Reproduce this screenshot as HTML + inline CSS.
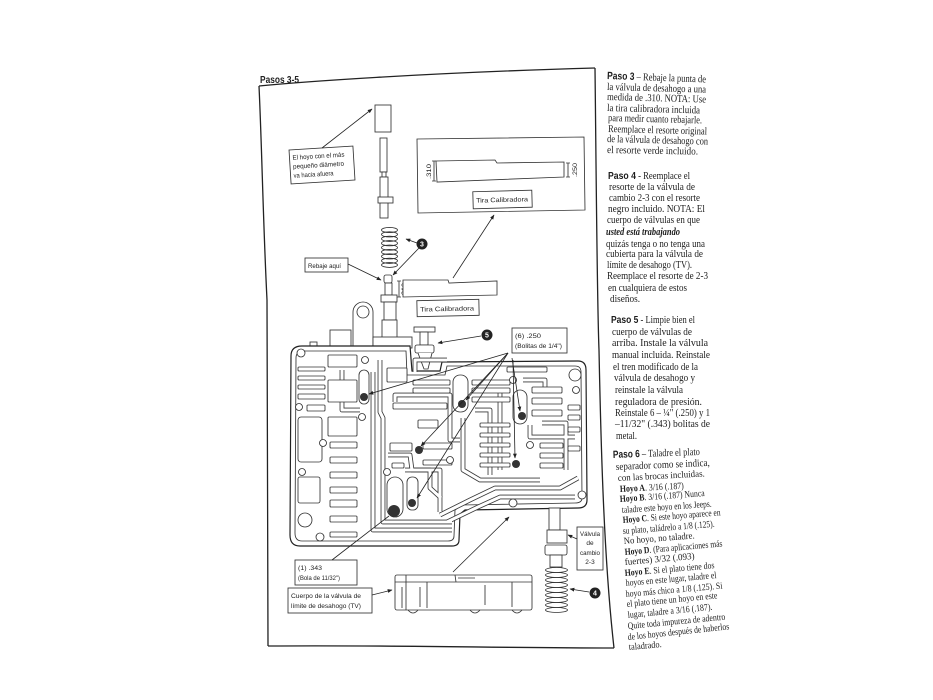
<!DOCTYPE html>
<html><head><meta charset="utf-8">
<style>
html,body{margin:0;padding:0;background:#fff;}
svg{display:block;}
.t{font-family:"Liberation Serif",serif;font-size:10.5px;fill:#1c1c1c;}
.s{font-family:"Liberation Serif",serif;font-size:9.5px;fill:#1c1c1c;}
.b{font-family:"Liberation Sans",sans-serif;font-weight:bold;}
.bs{font-weight:bold;}
.l{font-family:"Liberation Sans",sans-serif;font-size:6.5px;fill:#222;}
.k{fill:none;stroke:#333;stroke-width:0.85;}
.w{fill:#fff;stroke:#333;stroke-width:0.85;}
.ch1{fill:none;stroke:#3a3a3a;stroke-width:4.8;stroke-linejoin:round;}
.ch2{fill:none;stroke:#fff;stroke-width:3.1;stroke-linejoin:round;}
.a{fill:none;stroke:#222;stroke-width:0.8;}
</style></head><body>
<svg width="933" height="700" viewBox="0 0 933 700" xmlns="http://www.w3.org/2000/svg">
<defs>
<marker id="ah" viewBox="0 0 10 10" refX="9" refY="5" markerWidth="6" markerHeight="6" orient="auto"><path d="M0,1 L10,5 L0,9 z" fill="#222"/></marker>
</defs>
<rect width="933" height="700" fill="#fff"/>

<!-- FRAME -->
<g fill="none" stroke="#222" stroke-width="1.3">
<path d="M259,86 C300,82 420,73 595,68"/>
<path d="M259,86 C262,150 263,220 267,300 L268,646"/>
<path d="M268,646 C400,645 500,648 614,648"/>
<path d="M595,68 C596,150 597,300 599,350 C601,450 604,560 614,648"/>
</g>
<text x="260" y="83" font-family="Liberation Sans, sans-serif" font-weight="bold" font-size="10" fill="#222" textLength="39" lengthAdjust="spacingAndGlyphs">Pasos  3-5</text>

<!-- TOP VALVE STACK -->
<rect x="375" y="105" width="16" height="27" class="w"/>
<rect x="380" y="138" width="7" height="34" class="w"/>
<rect x="382" y="172" width="4" height="5" class="w"/>
<rect x="380" y="177" width="8" height="41" class="w"/>
<rect x="378" y="197" width="15" height="6" class="w"/>
<g class="k" stroke-width="1.1">
<ellipse cx="389.5" cy="230" rx="8" ry="2.6"/><ellipse cx="389.5" cy="234.4" rx="8" ry="2.6"/>
<ellipse cx="389.5" cy="238.8" rx="8" ry="2.6"/><ellipse cx="389.5" cy="243.2" rx="8" ry="2.6"/>
<ellipse cx="389.5" cy="247.6" rx="8" ry="2.6"/><ellipse cx="389.5" cy="252" rx="8" ry="2.6"/>
<ellipse cx="389.5" cy="256.4" rx="8" ry="2.6"/><ellipse cx="389.5" cy="260.8" rx="8" ry="2.6"/>
<ellipse cx="389.5" cy="265" rx="8" ry="2.4"/>
</g>
<circle cx="422" cy="244" r="5.5" fill="#222"/>
<text x="422" y="246.5" font-family="Liberation Sans, sans-serif" font-size="7" font-weight="bold" fill="#fff" text-anchor="middle">3</text>
<line x1="417" y1="243" x2="406" y2="239" class="a" marker-end="url(#ah)"/>
<line x1="419" y1="248" x2="393" y2="275" class="a" marker-end="url(#ah)"/>

<!-- label El hoyo -->
<g transform="rotate(-3.5 322 165)">
<rect x="290" y="148" width="64" height="34" class="w" stroke-width="0.7"/>
<text class="l" x="293" y="158" textLength="52" lengthAdjust="spacingAndGlyphs">El hoyo con el más</text>
<text class="l" x="293" y="167" textLength="51" lengthAdjust="spacingAndGlyphs">pequeño diámetro</text>
<text class="l" x="293" y="176" textLength="40" lengthAdjust="spacingAndGlyphs">va hacia afuera</text>
</g>
<line x1="322" y1="148" x2="372" y2="109" class="a" marker-end="url(#ah)"/>

<!-- Rebaje aqui -->
<rect x="305" y="258" width="43" height="14" class="w" stroke-width="0.7"/>
<text class="l" x="308" y="268" textLength="33" lengthAdjust="spacingAndGlyphs">Rebaje aquí</text>
<line x1="348" y1="264" x2="381" y2="280" class="a" marker-end="url(#ah)"/>

<!-- tip -->
<rect x="384" y="275" width="8" height="8" rx="2" class="w"/>
<rect x="385" y="283" width="7" height="12" class="w"/>
<rect x="381" y="295" width="16" height="7" class="w"/>
<rect x="384" y="302" width="12" height="18" class="w"/>
<rect x="382" y="320" width="15" height="18" class="w"/>
<path d="M399,281 L399,297 M397,281 L401,281 M397,297 L401,297" class="k" stroke-width="0.7"/>
<text class="l" font-size="5.5" transform="translate(406 297) rotate(-90)" textLength="14" lengthAdjust="spacingAndGlyphs">.310</text>

<!-- strip -->
<path d="M403,280 L448,280 L449,283 L497,281 L497,295 L403,297 Z" class="w"/>
<g transform="rotate(-1.2 448 308)">
<rect x="417" y="300" width="62" height="16" class="w" stroke-width="0.7"/>
<text class="l" x="420" y="311" textLength="54" lengthAdjust="spacingAndGlyphs">Tira Calibradora</text>
</g>
<line x1="453" y1="278" x2="494" y2="215" class="a" marker-end="url(#ah)"/>

<!-- top box -->
<path d="M417,139 L584,137 L585,210 L418,213 Z" class="w" stroke-width="1"/>
<path d="M436,161 L495,160 L497,163 L564,162 L564,177 L437,182 Z" class="w" stroke-width="1.1"/>
<path d="M434,161 L434,181 M432,161 L436,161 M432,181 L436,181" class="k" stroke-width="0.7"/>
<text class="l" font-size="6" transform="translate(431 179) rotate(-90)" textLength="15" lengthAdjust="spacingAndGlyphs">.310</text>
<path d="M568,163 L568,177 M566,163 L570,163 M566,177 L570,177" class="k" stroke-width="0.7"/>
<text class="l" font-size="6" transform="translate(577 177) rotate(-90)" textLength="14" lengthAdjust="spacingAndGlyphs">.250</text>
<g transform="rotate(-1.5 502 199)">
<rect x="473" y="191" width="59" height="17" class="w" stroke-width="0.7"/>
<text class="l" x="476" y="202" textLength="52" lengthAdjust="spacingAndGlyphs">Tira Calibradora</text>
</g>

<!-- VALVE BODY upper components -->
<path d="M353,348 L353,312 A10,10 0 0 1 373,312 L373,348" class="w"/>
<circle cx="363" cy="312" r="6" class="w"/>
<rect x="330" y="330" width="21" height="18" class="w"/>
<rect x="373" y="337" width="39" height="11" class="w"/>
<rect x="310" y="342" width="7" height="5" class="w"/>
<!-- manual valve -->
<rect x="414" y="327" width="21" height="5" class="w"/>
<rect x="420" y="332" width="8" height="13" class="w"/>
<rect x="415" y="345" width="19" height="8" rx="2" class="w"/>
<path d="M418,353 L424,369 L428,369 L432,353" class="w"/>
<circle cx="487" cy="335" r="5.5" fill="#222"/>
<text x="487" y="337.5" font-family="Liberation Sans, sans-serif" font-size="7" font-weight="bold" fill="#fff" text-anchor="middle">5</text>
<line x1="481" y1="336" x2="438" y2="343" class="a" marker-end="url(#ah)"/>

<!-- body outline -->
<path d="M291,356 Q291,346 302,346 L410,346 L412,371 L440,371 L442,362 L578,361 Q586,361 586,370 L587,500 Q587,508 578,508 L465,510 L460,514 L459,540 Q459,546 452,546 L300,546 Q290,546 290,535 Z" fill="#fff" stroke="#222" stroke-width="1.2"/>
<path d="M296,358 Q296,351 304,351 L406,351 L407,375 L445,375 L447,366 L575,366 Q581,366 581,372 L582,498 Q582,503 575,503 L462,505 L455,510 L454,536 Q454,541 448,541 L302,541 Q295,541 295,533 Z" class="k" stroke-width="0.7"/>

<!-- channels -->
<g>
<path class="ch1" d="M373,372 L373,530 L452,530"/>
<path class="ch1" d="M380,360 L380,412 L383,418 L383,522 L452,522"/>
<path class="ch1" d="M388,455 L410,455 L412,470 L430,470 L430,488 L441,498"/>
<path class="ch1" d="M440,515 L470,500 L495,488 L560,488 L578,478"/>
<path class="ch1" d="M447,522 L478,507 L500,497 L575,497"/>
<path class="ch1" d="M395,402 L395,395 L450,395 L450,440 L460,440"/>
<path class="ch1" d="M463,418 L463,470 L480,480 L540,480"/>
<path class="ch1" d="M500,392 L500,470"/>
<path class="ch1" d="M530,425 L530,437 L575,437"/>
<path class="ch1" d="M415,372 L415,360 L447,360"/>
<path class="ch1" d="M542,423 L566,423 L566,470"/>
<path class="ch1" d="M342,370 L342,410 L360,410"/>
<path class="ch1" d="M405,470 L440,470 L440,512"/>
<path class="ch1" d="M475,410 L490,410 L490,475"/>
<path class="ch1" d="M523,380 L545,380 L545,392"/>
<path class="ch2" d="M373,372 L373,530 L452,530"/>
<path class="ch2" d="M380,360 L380,412 L383,418 L383,522 L452,522"/>
<path class="ch2" d="M388,455 L410,455 L412,470 L430,470 L430,488 L441,498"/>
<path class="ch2" d="M440,515 L470,500 L495,488 L560,488 L578,478"/>
<path class="ch2" d="M447,522 L478,507 L500,497 L575,497"/>
<path class="ch2" d="M395,402 L395,395 L450,395 L450,440 L460,440"/>
<path class="ch2" d="M463,418 L463,470 L480,480 L540,480"/>
<path class="ch2" d="M500,392 L500,470"/>
<path class="ch2" d="M530,425 L530,437 L575,437"/>
<path class="ch2" d="M415,372 L415,360 L447,360"/>
<path class="ch2" d="M542,423 L566,423 L566,470"/>
<path class="ch2" d="M342,370 L342,410 L360,410"/>
<path class="ch2" d="M405,470 L440,470 L440,512"/>
<path class="ch2" d="M475,410 L490,410 L490,475"/>
<path class="ch2" d="M523,380 L545,380 L545,392"/>
</g>

<!-- slots -->
<g class="w">
<rect x="298" y="367" width="27" height="4" rx="1"/>
<rect x="298" y="376" width="27" height="4" rx="1"/>
<rect x="298" y="385" width="27" height="4" rx="1"/>
<rect x="298" y="394" width="27" height="5" rx="1"/>
<rect x="307" y="405" width="18" height="6" rx="1"/>
<rect x="328" y="355" width="29" height="12" rx="1"/>
<rect x="328" y="380" width="29" height="22" rx="1"/>
<rect x="328" y="417" width="29" height="19" rx="1"/>
<rect x="298" y="417" width="24" height="45" rx="3"/>
<rect x="330" y="442" width="27" height="6" rx="1"/>
<rect x="330" y="457" width="27" height="6" rx="1"/>
<rect x="330" y="472" width="27" height="6" rx="1"/>
<rect x="330" y="487" width="27" height="6" rx="1"/>
<rect x="330" y="500" width="27" height="7" rx="1"/>
<rect x="330" y="516" width="27" height="6" rx="1"/>
<rect x="330" y="532" width="27" height="5" rx="1"/>
<rect x="298" y="477" width="22" height="26" rx="2"/>
<rect x="387" y="368" width="20" height="14" rx="1"/>
<rect x="393" y="403" width="54" height="6" rx="1"/>
<rect x="413" y="380" width="37" height="5" rx="1"/>
<rect x="413" y="388" width="37" height="5" rx="1"/>
<rect x="390" y="443" width="22" height="8" rx="1"/>
<rect x="423" y="443" width="29" height="6" rx="1"/>
<rect x="423" y="460" width="29" height="5" rx="1"/>
<rect x="418" y="420" width="20" height="8" rx="1"/>
<rect x="392" y="463" width="12" height="5" rx="1"/>
<rect x="507" y="367" width="40" height="5" rx="1"/>
<rect x="472" y="380" width="38" height="5" rx="1"/>
<rect x="472" y="388" width="38" height="5" rx="1"/>
<rect x="472" y="397" width="38" height="5" rx="1"/>
<rect x="532" y="387" width="30" height="6" rx="1"/>
<rect x="532" y="398" width="30" height="6" rx="1"/>
<rect x="532" y="410" width="30" height="6" rx="1"/>
<rect x="568" y="405" width="12" height="5" rx="1"/>
<rect x="568" y="415" width="12" height="5" rx="1"/>
<rect x="568" y="427" width="12" height="5" rx="1"/>
<rect x="568" y="446" width="12" height="5" rx="1"/>
<rect x="480" y="423" width="30" height="4" rx="1"/>
<rect x="480" y="433" width="30" height="4" rx="1"/>
<rect x="480" y="443" width="30" height="4" rx="1"/>
<rect x="480" y="453" width="30" height="4" rx="1"/>
<rect x="480" y="463" width="30" height="4" rx="1"/>
<rect x="540" y="443" width="23" height="5" rx="1"/>
<rect x="540" y="453" width="23" height="5" rx="1"/>
<rect x="540" y="463" width="23" height="5" rx="1"/>
<rect x="359" y="370" width="10" height="34" rx="5"/>
<rect x="453" y="375" width="15" height="37" rx="7"/>
<rect x="513" y="390" width="14" height="34" rx="7"/>
<rect x="407" y="477" width="11" height="33" rx="5"/>
<rect x="387" y="477" width="16" height="40" rx="8"/>
</g>
<!-- bolt holes -->
<g class="w">
<circle cx="301" cy="353" r="4"/><circle cx="365" cy="360" r="3.5"/>
<circle cx="299" cy="407" r="3.5"/><circle cx="362" cy="417" r="3.5"/>
<circle cx="323" cy="443" r="3.5"/><circle cx="302" cy="472" r="3.5"/>
<circle cx="387" cy="472" r="3.5"/><circle cx="450" cy="460" r="3.5"/>
<circle cx="513" cy="380" r="3.5"/><circle cx="575" cy="375" r="6"/>
<circle cx="576" cy="390" r="3.5"/><circle cx="530" cy="445" r="3.5"/>
<circle cx="582" cy="495" r="4"/><circle cx="513" cy="503" r="4"/>
<circle cx="320" cy="537" r="4"/><circle cx="305" cy="520" r="7"/>
</g>
<!-- balls -->
<g fill="#333">
<circle cx="364" cy="397" r="4"/><circle cx="462" cy="404" r="4"/>
<circle cx="522" cy="416" r="4"/><circle cx="419" cy="450" r="4"/>
<circle cx="516" cy="464" r="4"/><circle cx="412" cy="503" r="4"/>
<circle cx="394" cy="511" r="6"/>
</g>

<!-- (6) .250 label -->
<rect x="512" y="328" width="55" height="25" class="w" stroke-width="0.7"/>
<text class="l" x="515" y="338" textLength="26" lengthAdjust="spacingAndGlyphs">(6)  .250</text>
<text class="l" x="515" y="348" textLength="47" lengthAdjust="spacingAndGlyphs">(Bolitas de 1/4")</text>
<line x1="508" y1="353" x2="369" y2="394" class="a" marker-end="url(#ah)"/>
<line x1="508" y1="353" x2="466" y2="400" class="a" marker-end="url(#ah)"/>
<line x1="508" y1="353" x2="421" y2="446" class="a" marker-end="url(#ah)"/>
<line x1="508" y1="353" x2="417" y2="498" class="a" marker-end="url(#ah)"/>
<line x1="512" y1="358" x2="520" y2="411" class="a" marker-end="url(#ah)"/>
<line x1="513" y1="360" x2="515" y2="458" class="a" marker-end="url(#ah)"/>

<!-- (1) .343 label -->
<rect x="295" y="560" width="62" height="25" class="w" stroke-width="0.7"/>
<text class="l" x="298" y="570" textLength="24" lengthAdjust="spacingAndGlyphs">(1) .343</text>
<text class="l" x="298" y="580" textLength="42" lengthAdjust="spacingAndGlyphs">(Bola de 11/32")</text>
<line x1="332" y1="560" x2="389" y2="516" class="a"/>

<!-- TV body -->
<rect x="288" y="588" width="84" height="25" class="w" stroke-width="0.7"/>
<text class="l" x="291" y="598" textLength="70" lengthAdjust="spacingAndGlyphs">Cuerpo de la válvula de</text>
<text class="l" x="291" y="608" textLength="70" lengthAdjust="spacingAndGlyphs">límite de desahogo (TV)</text>
<line x1="372" y1="595" x2="392" y2="590" class="a" marker-end="url(#ah)"/>
<rect x="395" y="575" width="137" height="35" rx="2" class="w" stroke-width="1.1"/>
<path d="M395,582 L532,582 M406,575 L406,610 M402,587 L402,608 M420,587 L420,607 M427,582 L427,608 M485,585 L485,605 M512,582 L512,607 M455,575 L456,582 M458,578 L475,578" class="k" stroke-width="0.8"/>
<path d="M408,610 Q413,616 418,610 M470,610 Q475,616 480,610 M512,610 Q517,616 522,610" class="k"/>
<line x1="453" y1="572" x2="509" y2="517" class="a" marker-end="url(#ah)"/>

<!-- 2-3 valve stack -->
<rect x="549" y="508" width="11" height="22" class="w"/>
<rect x="547" y="530" width="20" height="13" class="w"/>
<rect x="545" y="545" width="22" height="10" rx="2" class="w"/>
<rect x="550" y="555" width="12" height="12" class="w"/>
<g class="k" stroke-width="1.1">
<ellipse cx="556.5" cy="570" rx="11" ry="2.5"/><ellipse cx="556.5" cy="575" rx="11" ry="2.5"/>
<ellipse cx="556.5" cy="580" rx="11" ry="2.5"/><ellipse cx="556.5" cy="585" rx="11" ry="2.5"/>
<ellipse cx="556.5" cy="590" rx="11" ry="2.5"/><ellipse cx="556.5" cy="595" rx="11" ry="2.5"/>
<ellipse cx="556.5" cy="600" rx="11" ry="2.5"/><ellipse cx="556.5" cy="605" rx="11" ry="2.5"/>
<ellipse cx="556.5" cy="610" rx="11" ry="2.5"/>
</g>
<rect x="577" y="527" width="26" height="43" class="w" stroke-width="0.7"/>
<text class="l" x="590" y="536" text-anchor="middle" textLength="20" lengthAdjust="spacingAndGlyphs">Válvula</text>
<text class="l" x="590" y="545" text-anchor="middle">de</text>
<text class="l" x="590" y="555" text-anchor="middle" textLength="20" lengthAdjust="spacingAndGlyphs">cambio</text>
<text class="l" x="590" y="564" text-anchor="middle">2-3</text>
<line x1="577" y1="539" x2="568" y2="535" class="a" marker-end="url(#ah)"/>
<circle cx="595" cy="593" r="5.5" fill="#222"/>
<text x="595" y="595.5" font-family="Liberation Sans, sans-serif" font-size="7" font-weight="bold" fill="#fff" text-anchor="middle">4</text>
<line x1="589" y1="592" x2="570" y2="589" class="a" marker-end="url(#ah)"/>

<!-- RIGHT TEXT COLUMN -->
<g class="t">
<text x="607" y="79" textLength="99" lengthAdjust="spacingAndGlyphs" transform="rotate(2 607 79)"><tspan class="b">Paso  3</tspan> – Rebaje la punta de</text>
<text x="607" y="90" textLength="99" lengthAdjust="spacingAndGlyphs" transform="rotate(1.5 607 90)">la válvula de desahogo a una</text>
<text x="607" y="100" textLength="99" lengthAdjust="spacingAndGlyphs" transform="rotate(1.5 607 100)">medida de .310.  NOTA: Use</text>
<text x="607" y="111" textLength="93" lengthAdjust="spacingAndGlyphs" transform="rotate(1.5 607 111)">la tira calibradora incluida</text>
<text x="608" y="121" textLength="94" lengthAdjust="spacingAndGlyphs" transform="rotate(1.5 608 121)">para medir cuanto rebajarle.</text>
<text x="608" y="132" textLength="99" lengthAdjust="spacingAndGlyphs" transform="rotate(1.5 608 132)">Reemplace el resorte original</text>
<text x="607" y="142" textLength="101" lengthAdjust="spacingAndGlyphs" transform="rotate(1.5 607 142)">de la válvula de desahogo con</text>
<text x="607" y="153" textLength="91" lengthAdjust="spacingAndGlyphs" transform="rotate(1 607 153)">el resorte verde incluido.</text>

<text x="608" y="179" textLength="82" lengthAdjust="spacingAndGlyphs"><tspan class="b">Paso 4</tspan> - Reemplace el</text>
<text x="609" y="190" textLength="86" lengthAdjust="spacingAndGlyphs">resorte de la válvula de</text>
<text x="609" y="201" textLength="91" lengthAdjust="spacingAndGlyphs">cambio 2-3 con el resorte</text>
<text x="608" y="212" textLength="97" lengthAdjust="spacingAndGlyphs">negro incluido. NOTA:  El</text>
<text x="607" y="223" textLength="93" lengthAdjust="spacingAndGlyphs">cuerpo de válvulas en que</text>
<text x="606" y="235" textLength="74" lengthAdjust="spacingAndGlyphs" font-style="italic" font-weight="bold">usted está trabajando</text>
<text x="606" y="247" textLength="99" lengthAdjust="spacingAndGlyphs">quizás tenga o no tenga una</text>
<text x="606" y="257" textLength="97" lengthAdjust="spacingAndGlyphs">cubierta para la válvula de</text>
<text x="607" y="268" textLength="85" lengthAdjust="spacingAndGlyphs">límite de desahogo (TV).</text>
<text x="607" y="279" textLength="101" lengthAdjust="spacingAndGlyphs">Reemplace el resorte de 2-3</text>
<text x="608" y="291" textLength="79" lengthAdjust="spacingAndGlyphs">en cualquiera de estos</text>
<text x="610" y="302" textLength="30" lengthAdjust="spacingAndGlyphs">diseños.</text>

<text x="611" y="323" textLength="84" lengthAdjust="spacingAndGlyphs"><tspan class="b">Paso 5</tspan> - Limpie bien el</text>
<text x="612" y="335" textLength="80" lengthAdjust="spacingAndGlyphs">cuerpo de válvulas de</text>
<text x="612" y="346" textLength="96" lengthAdjust="spacingAndGlyphs">arriba. Instale la válvula</text>
<text x="612" y="358" textLength="98" lengthAdjust="spacingAndGlyphs">manual incluida.  Reinstale</text>
<text x="613" y="370" textLength="85" lengthAdjust="spacingAndGlyphs">el tren modificado de la</text>
<text x="614" y="381" textLength="81" lengthAdjust="spacingAndGlyphs">válvula de desahogo y</text>
<text x="615" y="393" textLength="68" lengthAdjust="spacingAndGlyphs">reinstale la válvula</text>
<text x="615" y="405" textLength="87" lengthAdjust="spacingAndGlyphs">reguladora de presión.</text>
<text x="615" y="416" textLength="95" lengthAdjust="spacingAndGlyphs">Reinstale 6 – ¼" (.250) y 1</text>
<text x="615" y="427" textLength="95" lengthAdjust="spacingAndGlyphs">–11/32" (.343) bolitas de</text>
<text x="616" y="439" textLength="21" lengthAdjust="spacingAndGlyphs">metal.</text>

<text x="613" y="458" textLength="87" lengthAdjust="spacingAndGlyphs" transform="rotate(-2 613 458)"><tspan class="b">Paso 6</tspan> – Taladre el plato</text>
<text x="616" y="470" textLength="94" lengthAdjust="spacingAndGlyphs" transform="rotate(-2.5 616 470)">separador como se indica,</text>
</g>
<g class="s">
<text x="618" y="481" textLength="87" lengthAdjust="spacingAndGlyphs" transform="rotate(-3 618 481)">con las brocas incluidas.</text>
<text x="620" y="492" textLength="64" lengthAdjust="spacingAndGlyphs" transform="rotate(-3 620 492)"><tspan class="bs">Hoyo A</tspan>.  3/16 (.187)</text>
<text x="620" y="502" textLength="85" lengthAdjust="spacingAndGlyphs" transform="rotate(-4 620 502)"><tspan class="bs">Hoyo B</tspan>.  3/16 (.187) Nunca</text>
<text x="622" y="513" textLength="90" lengthAdjust="spacingAndGlyphs" transform="rotate(-4 622 513)">taladre este hoyo en los Jeeps.</text>
<text x="623" y="523" textLength="98" lengthAdjust="spacingAndGlyphs" transform="rotate(-4.5 623 523)"><tspan class="bs">Hoyo C</tspan>.  Si este hoyo aparece en</text>
<text x="623" y="534" textLength="92" lengthAdjust="spacingAndGlyphs" transform="rotate(-4.5 623 534)">su plato, taládrelo a 1/8 (.125).</text>
<text x="624" y="544" textLength="71" lengthAdjust="spacingAndGlyphs" transform="rotate(-4.5 624 544)">No hoyo, no taladre.</text>
<text x="625" y="555" textLength="98" lengthAdjust="spacingAndGlyphs" transform="rotate(-5 625 555)"><tspan class="bs">Hoyo D</tspan>.  (Para aplicaciones más</text>
<text x="625" y="565" textLength="70" lengthAdjust="spacingAndGlyphs" transform="rotate(-5 625 565)">fuertes) 3/32 (.093)</text>
<text x="625" y="576" textLength="90" lengthAdjust="spacingAndGlyphs" transform="rotate(-5 625 576)"><tspan class="bs">Hoyo E</tspan>.  Si el plato tiene dos</text>
<text x="626" y="586" textLength="91" lengthAdjust="spacingAndGlyphs" transform="rotate(-5 626 586)">hoyos en este lugar, taladre el</text>
<text x="626" y="597" textLength="97" lengthAdjust="spacingAndGlyphs" transform="rotate(-5 626 597)">hoyo más chico a 1/8 (.125). Si</text>
<text x="627" y="607" textLength="91" lengthAdjust="spacingAndGlyphs" transform="rotate(-5.5 627 607)">el plato tiene un hoyo en este</text>
<text x="628" y="618" textLength="85" lengthAdjust="spacingAndGlyphs" transform="rotate(-5.5 628 618)">lugar, taladre a 3/16 (.187).</text>
<text x="628" y="629" textLength="98" lengthAdjust="spacingAndGlyphs" transform="rotate(-5.5 628 629)">Quite toda impureza de adentro</text>
<text x="628" y="640" textLength="102" lengthAdjust="spacingAndGlyphs" transform="rotate(-6 628 640)">de los hoyos después de haberlos</text>
<text x="629" y="650" textLength="33" lengthAdjust="spacingAndGlyphs" transform="rotate(-5 629 650)">taladrado.</text>
</g>
</svg>
</body></html>
